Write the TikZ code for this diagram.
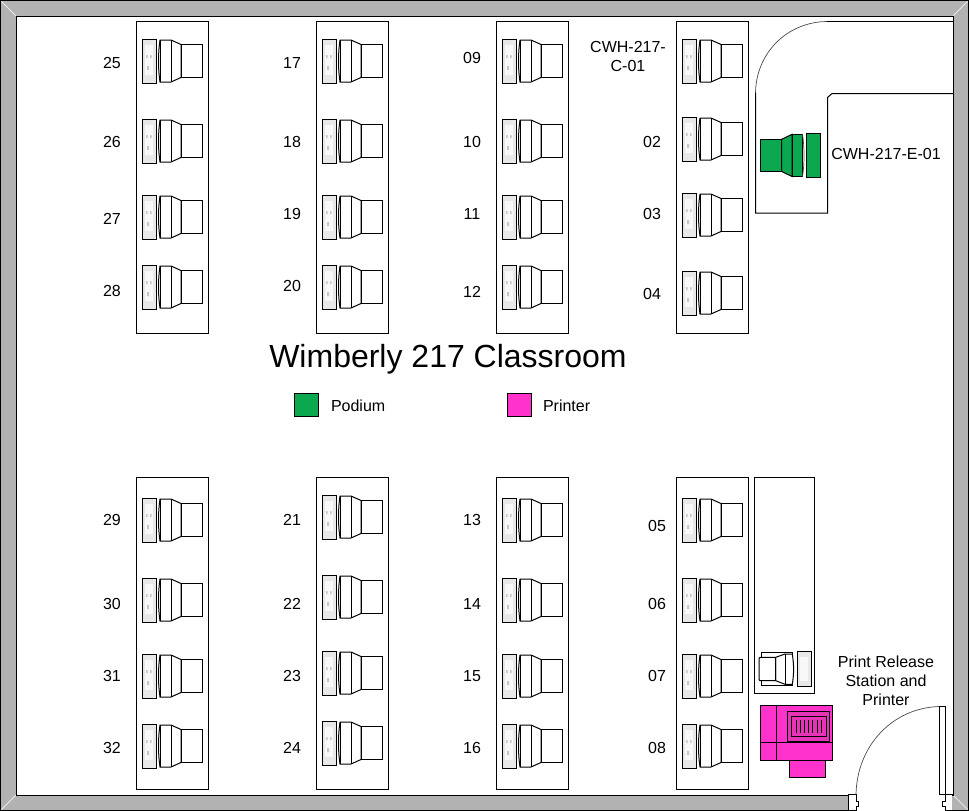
\documentclass[tikz,border=0pt]{standalone}
\usepackage{fontspec}
\setmainfont{Liberation Sans}
\usetikzlibrary{positioning, calc}
\definecolor{wallgray}{HTML}{B2B2B2}
\definecolor{podiumgreen}{HTML}{0BA84F}
\definecolor{printerpink}{HTML}{FF33CC}
\definecolor{printerdark}{HTML}{E633B8}

\begin{document}
\begin{tikzpicture}[x=1pt, y=-1pt, line width=1pt]
        \tikzstyle{desk} = [rectangle, draw=black, fill=white, minimum width=72pt, minimum height=312pt, inner sep=0pt]
        \tikzstyle{seatlabel} = [font=\fontsize{16}{19}\selectfont, align=center, inner sep=0pt, yshift=-0.8pt]
        \tikzstyle{swatch} = [rectangle, draw=black, minimum width=24pt, minimum height=23pt, inner sep=0pt]
        \tikzstyle{part} = [draw=black, fill=white]
        \tikzstyle{greenpart} = [draw=black, fill=podiumgreen]
        \tikzstyle{pinkpart} = [draw=black, fill=printerpink]
        \tikzstyle{screen} = [draw=black, fill=black!9]
        \tikzstyle{swing} = [draw=black!70, line width=0.7pt]
        \useasboundingbox (0,0) rectangle (969,811);

        % walls
        \fill [wallgray] (0,0) rectangle (969,811);
        \draw [white!70!wallgray] (0,0) -- (16,16) (969,0) -- (953,16) (0,811) -- (16,795) (969,811) -- (953,795);
        \draw [draw=black, fill=white] (16,16) rectangle (953,795);
        \draw (0.5,0.5) rectangle (968.5,810.5);

        % door gap
        \fill [white] (849,794) rectangle (952,811);
        \draw (848.5,794.5) -- (856,794.5) -- (856,801) -- (858.5,801) -- (858.5,806) -- (856,806) -- (856,810.5) -- (848.5,810.5) -- cycle;
        \draw (952.5,794.5) -- (945,794.5) -- (945,801) -- (942.5,801) -- (942.5,806) -- (945,806) -- (945,810.5) -- (952.5,810.5);
        \draw [part] (939,706.5) rectangle (945,794.5);
        \draw [swing] (939,706.5) .. controls (893,708) and (857,745) .. (856,794.5);

        % desks
        \foreach \deskx/\desky/\deskname in {172/177/a, 352/177/b, 532/177/c, 712/177/d, 172/633/e, 352/633/f, 532/633/g, 712/633/h}
            \node (desk\deskname) [desk] at (\deskx,\desky) {};
        \node (sidetable) [desk, minimum width=60pt, minimum height=216pt] at (784,585) {};

        % stations
        \foreach \sx/\sy in {136/61, 136/141, 136/217, 136/287, 316/61, 316/141, 316/217, 316/287,
                             496/61, 496/141, 496/217, 496/287, 676/61, 676/139, 676/215, 676/293,
                             136/520, 136/600, 136/676, 136/746, 316/517, 316/597, 316/673, 316/743,
                             496/520, 496/600, 496/676, 496/746, 676/520, 676/600, 676/676, 676/746} {
            \draw [screen] (\sx+6.3,\sy-22) rectangle (\sx+20.3,\sy+22);
            \fill [white!70!black!9] (\sx+9,\sy-16) rectangle (\sx+17,\sy+14);
            \fill [black!22] (\sx+10,\sy-6) rectangle (\sx+11.5,\sy-3) (\sx+14,\sy-6) rectangle (\sx+15.5,\sy-3) (\sx+11,\sy+5) rectangle (\sx+13,\sy+9);
            \draw [part] (\sx+24,\sy-21) -- (\sx+35,\sy-21) -- (\sx+45,\sy-16.5) -- (\sx+45,\sy+16.5) -- (\sx+35,\sy+21) -- (\sx+24,\sy+21) .. controls (\sx+22,\sy+8) and (\sx+22,\sy-8) .. cycle;
            \draw (\sx+24,\sy-21) -- (\sx+24,\sy+21);
            \draw (\sx+35,\sy-21) -- (\sx+35,\sy+21);
            \draw [part] (\sx+45,\sy-16.5) rectangle (\sx+66.7,\sy+16.5);
        }

        % seat numbers
        \foreach \lx/\ly/\ltext in {112/62/25, 112/141/26, 112/218/27, 112/290/28, 292/62/17, 292/141/18, 292/213/19, 292/285/20,
                                    472/57/09, 472/141/10, 472/213/11, 472/291/12, 652/141/02, 652/213/03, 652/293/04,
                                    112/519/29, 112/603/30, 112/675/31, 112/747/32, 292/519/21, 292/603/22, 292/675/23, 292/747/24,
                                    472/519/13, 472/603/14, 472/675/15, 472/747/16, 657/525/05, 657/603/06, 657/675/07, 657/747/08}
            \node (seat\ltext) [seatlabel] at (\lx,\ly) {\ltext};
        \node (seat01) [seatlabel] at (628,56) {CWH-217-\\C-01};

        % instructor corner
        \draw (953,21.5) -- (827,21.5);
        \draw [swing] (827,21.5) .. controls (787,22) and (756,53) .. (755.5,93);
        \draw (755.5,93) -- (755.5,213) -- (827.5,213) -- (827.5,97.5) -- (832,93.5) -- (953,93.5);
        \draw [greenpart] (760.3,139.3) rectangle (781.7,171.5);
        \draw [greenpart] (781.7,139.3) -- (792,134.3) -- (792,176.5) -- (781.7,171.5) -- cycle;
        \draw [greenpart] (792,134.3) rectangle (802.5,176.5);
        \draw [swing] (802.5,134.3) .. controls (804.5,147) and (804.5,164) .. (802.5,176.5);
        \draw [greenpart] (806.5,133.5) rectangle (820.5,177.5);
        \node (podiumlabel) [seatlabel] at (886,153) {CWH-217-E-01};

        % title and legend
        \node (title) [font=\fontsize{32}{38}\selectfont, inner sep=0pt] at (448,359) {Wimberly 217 Classroom};
        \node (podiumkey) [swatch, fill=podiumgreen] at (306,404.5) {};
        \node (podiumtext) [seatlabel, right=12pt of podiumkey] {Podium};
        \node (printerkey) [swatch, fill=printerpink] at (519,404.5) {};
        \node (printertext) [seatlabel, right=11pt of printerkey] {Printer};

        % release station
        \draw [screen] (797.3,651.7) rectangle (811,686);
        \fill [white!70!black!9] (800,657) rectangle (808,681);
        \draw [part] (761,652.5) rectangle (792.3,685);
        \draw [part] (775.7,657.3) -- (785,654) -- (792.3,654) .. controls (794,665) and (794,674) .. (792.3,684.3) -- (785,684.3) -- (775.7,680.7) -- cycle;
        \draw (785,654) -- (785,684.3);
        \draw [part, rounded corners=1pt] (759,657.3) rectangle (775.7,680.7);
        \node (printlabel) [seatlabel] at (886,680) {Print Release\\Station and\\Printer};

        % printer
        \draw [pinkpart] (789.7,760.3) rectangle (825.3,777.3);
        \draw [pinkpart] (760.3,705.7) rectangle (832.7,760.3);
        \draw (776.7,705.7) -- (776.7,760.3);
        \draw (760.3,742.3) -- (832.7,742.3);
        \draw [draw=black, fill=printerdark] (787.3,711) rectangle (829.3,741);
        \draw (791,716.3) rectangle (826,736.7);
        \foreach \tickx in {796.3, 800.4, 804.5, 808.7, 812.8, 816.9, 821}
            \draw [line width=0.8pt] (\tickx,719.5) -- (\tickx,733.3);
    \end{tikzpicture}
\end{document}
